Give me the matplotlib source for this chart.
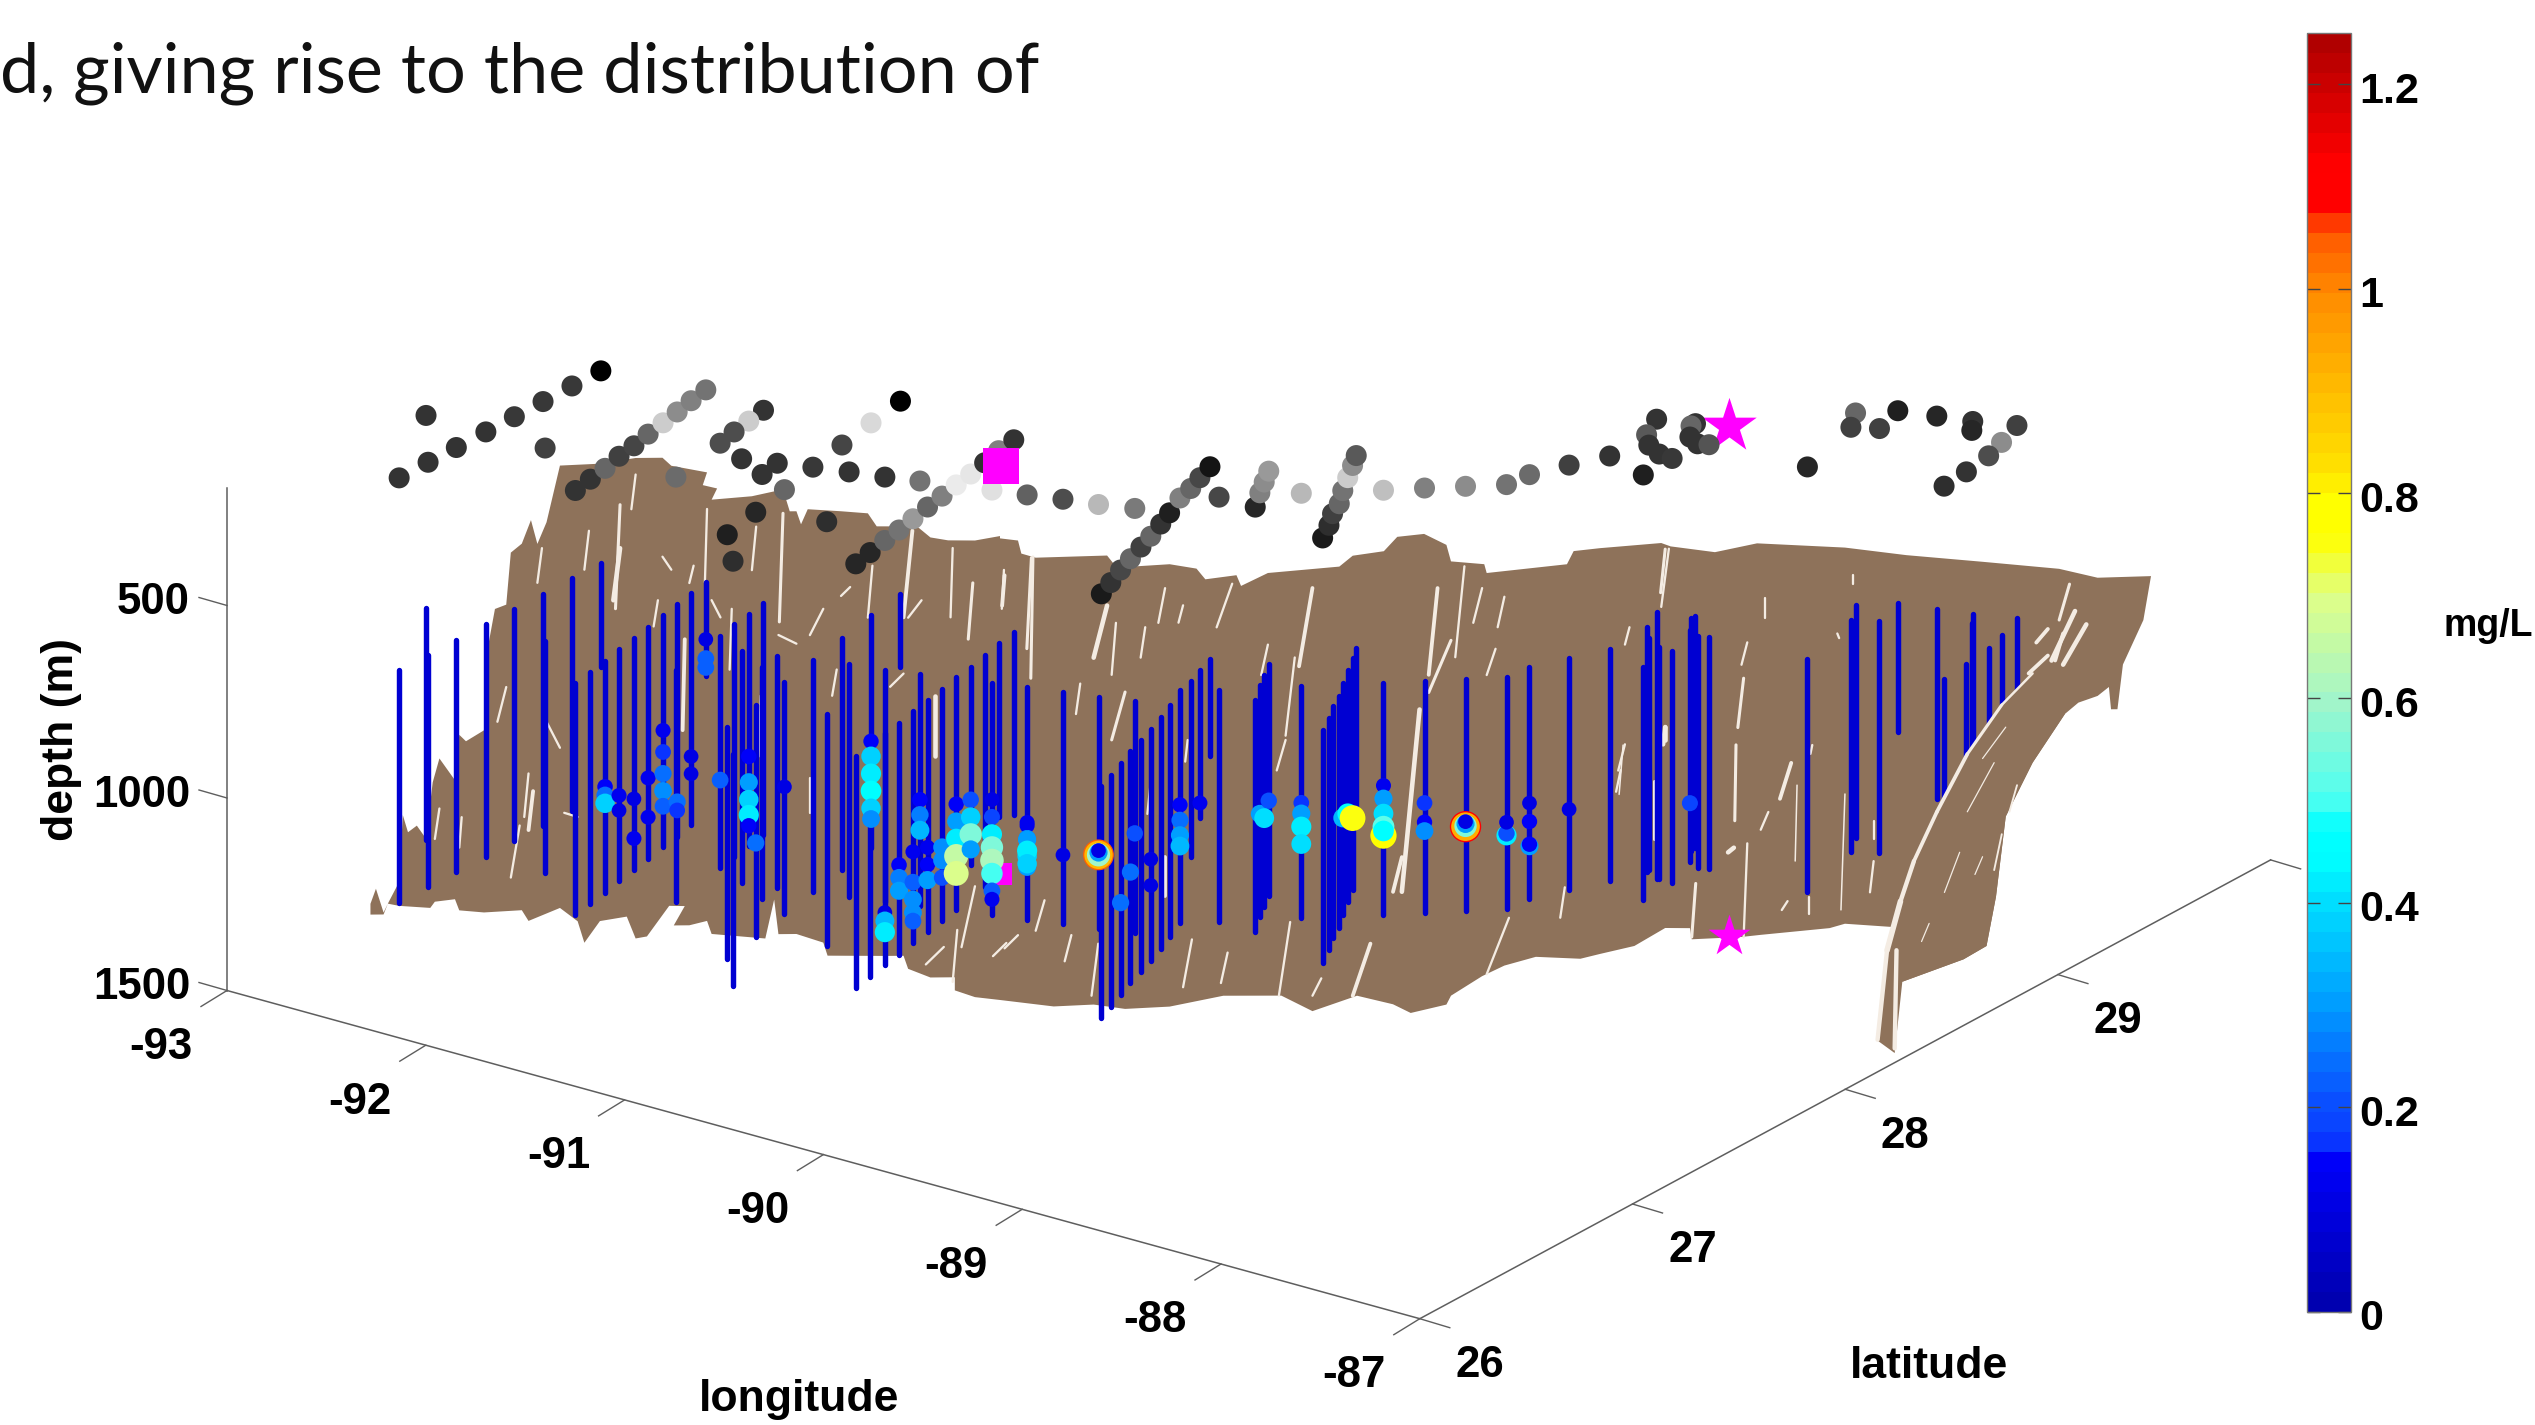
import numpy as np
import matplotlib
matplotlib.use('Agg')
import matplotlib.pyplot as plt
from matplotlib.cm import ScalarMappable
from matplotlib.colors import Normalize, LinearSegmentedColormap
from matplotlib.transforms import ScaledTranslation

# ship stations (surface positions)
track_lon=[-92.026,-92.026,-92.023,-92.021,-92.02,-92.018,-92.018,-92.015,-92.322,-91.724,-91.361,-91.381,-91.399,-91.427,-91.442,-91.467,-91.487,-91.507,-91.53,-91.548,-91.109,-91.23,-91.212,-91.194,-91.171,-91.003,-90.857,-90.838,-90.67,-90.714,-90.754,-90.794,-90.83,-90.564,-90.413,-90.272,-89.974,-89.996,-90.022,-90.039,-90.062,-90.086,-90.105,-90.127,-90.146,-90.169,-90.197,-90.214,-89.976,-89.829,-90.626,-90.582,-90.399,-90.331,-89.683,-89.532,-89.387,-88.971,-89.009,-89.054,-89.091,-89.128,-89.162,-89.204,-89.244,-89.301,-89.324,-89.36,-89.394,-89.176,-88.994,-89.067,-89.119,-89.171,-88.926,-88.579,-88.636,-88.696,-88.735,-88.804,-88.868,-88.927,-88.976,-88.671,-88.548,-88.422,-88.296,-88.281,-88.208,-88.129,-87.9,-88.2,-88.137,-88.066,-87.976,-87.906,-88.043,-88.044,-87.979,-87.912,-87.868,-87.403,-87.576,-87.503,-87.4,-87.449,-87.286,-87.133,-87.081,-86.961,-86.908,-86.868,-86.843,-86.829]
track_lat=[25.899,26.035,26.165,26.302,26.435,26.568,26.704,26.837,26.302,26.303,26.106,26.195,26.281,26.373,26.457,26.547,26.636,26.721,26.808,26.894,26.343,26.868,26.782,26.696,26.609,26.553,26.584,26.495,26.443,26.618,26.792,26.966,27.138,26.648,26.675,26.708,26.128,26.216,26.309,26.392,26.479,26.57,26.656,26.743,26.829,26.916,27.008,27.095,26.77,26.798,26.267,26.092,25.948,26.325,26.83,26.856,26.891,26.345,26.425,26.513,26.594,26.678,26.756,26.842,26.921,27.023,27.095,27.172,27.251,27.09,27.09,27.18,27.249,27.319,27.243,27.019,27.102,27.175,27.243,27.324,27.407,27.485,27.548,27.391,27.469,27.544,27.619,27.713,27.831,27.948,27.892,28.235,28.129,28.073,28.038,28.033,28.271,28.251,28.185,28.158,28.171,28.199,28.587,28.497,28.535,28.667,28.698,28.724,28.671,28.771,28.649,28.551,28.423,28.305]
track_gray=[.2,.2,.2,.2,.22,.22,.22,0,.2,.25,.2,.2,.4,.25,.27,.4,.8,.55,.5,.45,.42,.2,.8,.3,.3,.2,.2,.2,.4,.22,.27,.85,0,.2,.2,.45,.15,.15,.4,.45,.6,.4,.5,.92,.9,.2,.5,.2,.88,.38,.15,.12,.18,.18,
.3,.72,.48,.1,.2,.28,.4,.25,.4,.2,.12,.5,.4,.28,.08,.28,.15,.5,.55,.6,.72,.1,.18,.25,.4,.45,.8,.55,.35,.75,.5,.55,.45,.42,.25,.2,
.12,.2,.35,.2,.2,.22,.2,.4,.2,.2,.33,.15,.4,.25,.25,.12,.15,.2,.15,.25,.55,.3,.2,.18]
cast_bottom=[1103,1103,1103,1103,1103,1103,1103,770,1103,1103,1103,1103,1103,1103,1103,1103,1103,1103,1103,743,1103,1103,1103,1103,1103,1103,1103,1103,1103,1103,1103,1103,691,1103,1103,1103,1103,1103,1103,1103,1103,1103,1103,1103,1015,1103,951,974,1103,1103,1103,1103,1103,1103,
1103,1103,1103,1103,1103,1103,1103,1103,1103,1103,1103,1103,957,884,750,1103,1103,1103,1103,1103,1103,1103,1103,1103,1103,1103,1103,1103,930,1103,1103,1103,1103,1103,1103,1103,
1103,1194,1136,1103,1103,1103,1103,1103,1103,1103,1103,1103,1103,1103,1103,834,994,864,852,703,705,705,744,812]
cast_top=500

site_square=(-90.095,26.925)
site_star=(-87.917,28.312)
square_depth=1059
star_depth=1325

# oxygen-anomaly samples: station index, depth (m), mg/L
blob_station=[12,12,12,13,13,14,14,15,15,16,16,16,16,16,17,17,18,18,19,19,19,24,22,22,22,22,22,50,28,31,31,31,31,31,31,34,34,34,39,39,39,40,40,40,40,40,35,35,35,41,41,41,42,42,42,43,43,43,43,43,44,44,44,44,48,48,48,48,48,48,48,48,49,49,49,49,49,49,49,49,54,55,55,55,55,55,59,60,56,62,62,65,65,65,65,67,71,73,72,74,74,74,74,79,80,81,83,83,83,83,83,83,84,84,84,85,85,85,85,85,86,86,86,87,87,87,87,88,98]
blob_depth=[827,849,870,881,920,917,1020,893,995,799,855,911,956,996,1013,1035,924,969,648,698,721,875,871,938,983,1023,1051,859,772,827,866,911,956,1001,1029,1131,1153,1182,870,903,937,865,944,989,1023,1045,828,867,907,884,929,969,912,946,991,829,874,919,964,1009,846,891,936,975,804,849,894,928,962,996,1041,1063,859,893,938,966,851,896,924,958,924,910,910,910,904,899,864,814,844,839,907,797,837,876,904,845,834,856,873,804,832,866,911,850,873,916,767,801,840,897,874,885,818,868,891,884,884,882,877,871,911,906,877,853,901,965,960,894,951]
blob_value=[.15,.25,.38,.12,.1,.1,.12,.12,.12,.12,.16,.24,.28,.22,.24,.16,.1,.1,.1,.22,.22,.22,.15,.3,.38,.42,.14,.25,.1,.14,.38,.42,.45,.38,.28,.1,.35,.42,.15,.26,.3,.12,.22,.28,.28,.22,.15,.26,.35,.12,.14,.3,.28,.28,.2,.14,.3,.42,.65,.7,.2,.38,.55,.3,.1,.18,.42,.55,.62,.5,.22,.12,.12,.28,.38,.3,.12,.3,.42,.38,
.1,1.05,.9,.6,.3,.1,.25,.25,.2,.1,.1,.14,.24,.3,.34,.12,.3,.2,.4,.16,.3,.42,.4,.35,.45,.75,.12,.3,.4,.78,.52,.45,.16,.14,.28,1.08,.92,.55,.3,.1,.42,.2,.1,.1,.14,.3,.14,.1,.18]

# seafloor outline: longitude and depth along the slope
floor_lon=[-92.739,-92.721,-92.696,-92.682,-92.645,-92.633,-92.616,-92.587,-92.557,-92.535,-92.513,-92.462,-92.448,-92.426,-92.367,-92.352,-92.331,-92.294,-92.279,-92.243,-92.213,-92.192,-92.162,-92.118,-91.987,-91.87,-91.782,-91.753,-91.636,-91.65,-91.603,-91.621,-91.489,-91.387,-91.365,-91.343,-91.328,-91.306,-91.197,-91.109,-91.08,-90.948,-90.904,-90.846,-90.758,-90.676,-90.676,-90.617,-90.606,-90.559,-90.325,-90.296,-90.237,-90.12,-90.032,-90.003,-89.901,-89.886,-89.798,-89.564,-89.52,-89.418,-89.374,-89.286,-89.213,-89.198,-89.089,-89.081,-88.818,-88.796,-88.71,-88.509,-88.478,-88.333,-88.195,-87.907,-87.706,-87.456,-87.205,-87.079,-86.904,-86.929,-86.996,-87.014,-87.035,-87.042,-87.079,-87.142,-87.186,-87.292,-87.38,-87.412,-87.443,-87.518,-87.719,-87.744,-87.907,-87.957,-88.183,-88.246,-88.409,-88.415,-88.496,-88.597,-88.71,-88.774,-88.92,-89.023,-89.096,-89.198,-89.213,-89.33,-89.388,-89.506,-89.652,-89.754,-89.944,-90.12,-90.266,-90.369,-90.5,-90.676,-90.758,-90.824,-90.824,-90.904,-90.977,-90.992,-91.05,-91.241,-91.255,-91.343,-91.402,-91.416,-91.445,-91.621,-91.636,-91.694,-91.745,-91.709,-91.76,-91.833,-91.87,-91.899,-91.987,-92.038,-92.06,-92.118,-92.221,-92.243,-92.367,-92.448,-92.462,-92.528,-92.543,-92.645,-92.682,-92.696,-92.739]
floor_depth=[1366,1327,1389,1366,1310,1136,1181,1164,1198,1052,990,1047,929,946,918,693,603,592,457,434,373,435,379,232,228,214,214,235,253,286,295,324,316,299,356,356,390,351,357,363,397,398,427,435,436,425,431,437,471,482,478,507,507,502,514,542,532,560,527,512,484,473,436,429,458,501,509,532,511,477,470,458,467,483,461,474,495,514,534,558,555,669,784,900,900,842,865,882,911,1037,1176,1384,1512,1546,1603,1461,1451,1462,1478,1483,1488,1459,1458,1504,1524,1536,1530,1552,1579,1629,1652,1673,1650,1627,1666,1625,1624,1651,1656,1644,1648,1630,1622,1604,1570,1570,1547,1513,1513,1511,1477,1454,1454,1364,1465,1452,1418,1429,1429,1379,1378,1457,1462,1405,1416,1472,1416,1381,1414,1386,1391,1385,1356,1362,1378,1372,1366,1394,1394]
hook_lon=[-87.292,-87.393,-87.506,-87.606,-87.681,-87.725,-87.769,-87.804,-87.744,-87.719,-87.518,-87.443,-87.412,-87.38,-87.292,-87.186]
hook_depth=[805,886,1013,1163,1290,1394,1521,1753,1788,1603,1546,1512,1384,1176,1037,911]

# gaps in the bathymetry
gap_lon0=[-91.921,-91.87,-91.797,-92.023,-92.177,-91.921,-91.636,-91.475,-91.387,-91.555,-91.621,-91.255,-91.094,-90.963,-90.831,-90.765,-90.663,-90.568,-90.933,-92.221,-92.294,-92.104,-92.206,-92.25,-91.211,-91.299,-91.46,-90.889,-92.162,-91.036,-91.709,-90.758,-90.655,-90.86,-90.816,-91.782,-91.68,-91.197,-91.402,-92.513,-92.44,-90.573,-90.661,-90.325,-90.296,-90.2,-90.135,-90.076,-89.915,-89.652,-89.798,-89.71,-89.74,-89.242,-89.154,-89.096,-89.198,-89.301,-89.359,-89.023,-89.052,-88.613,-88.496,-88.628,-88.496,-88.642,-88.825,-89.008,-89.462,-89.623,-89.725,-89.93,-90.047,-90.354,-90.442,-90.53,-90.266,-90.413,-90.135,-90.178,-90.061,-90.617,-88.484,-88.17,-87.882,-88.634,-88.239,-88.264,-88.227,-88.396,-88.064,-88.083,-87.907,-87.813,-88.227,-88.534,-88.496,-88.271,-88.158,-88.014,-88.026,-88.095,-87.813,-87.932,-87.171,-87.153,-87.116,-87.242,-87.242,-87.192]
gap_lon1=[-91.936,-91.884,-91.811,-92.038,-92.192,-91.943,-91.643,-91.489,-91.399,-91.562,-91.592,-91.299,-91.109,-90.992,-90.838,-90.78,-90.67,-90.575,-90.977,-92.235,-92.323,-92.06,-92.221,-92.279,-91.226,-91.299,-91.467,-90.889,-92.118,-90.992,-91.716,-90.802,-90.699,-90.919,-90.831,-91.753,-91.694,-91.167,-91.343,-92.528,-92.448,-90.588,-90.669,-90.369,-90.31,-90.215,-90.157,-90.091,-89.966,-89.696,-89.82,-89.74,-89.769,-89.271,-89.184,-89.125,-89.271,-89.359,-89.388,-89.045,-89.081,-88.628,-88.511,-88.65,-88.503,-88.657,-88.84,-89.081,-89.52,-89.652,-89.762,-89.952,-90.076,-90.376,-90.464,-90.559,-90.31,-90.427,-90.135,-90.193,-90.069,-90.661,-88.509,-88.17,-87.882,-88.647,-88.258,-88.268,-88.239,-88.409,-88.07,-88.12,-87.92,-87.825,-88.246,-88.534,-88.496,-88.29,-88.183,-88.02,-88.026,-88.114,-87.813,-87.926,-87.205,-87.23,-87.192,-87.28,-87.305,-87.218]
gap_depth0=[335,257,584,402,446,448,348,395,361,608,585,610,499,409,455,546,513,480,590,1031,806,1134,1077,1166,768,1049,834,838,897,814,686,1334,1482,1491,1447,471,495,577,677,1120,1143,482,527,608,653,665,564,609,554,567,713,747,961,570,514,571,706,885,1268,594,729,676,474,980,936,1047,1350,1428,1492,1581,1434,1512,1477,1486,1463,1372,833,810,1262,1037,959,1462,473,602,546,982,811,984,1240,1343,1090,1032,1114,1289,718,1075,936,1251,1159,986,1380,1391,1185,697,574,644,679,690,759,702]
gap_span=[270,90,68,101,90,135,191,113,282,158,45,68,135,225,180,146,101,315,45,113,90,11,101,135,68,90,158,158,68,-34,236,158,34,45,135,34,45,-23,23,79,79,
236,79,135,135,79,90,45,113,203,79,203,79,225,236,90,135,473,90,79,68,45,113,68,45,56,79,146,135,45,191,79,124,135,68,79,124,79,101,113,56,34,
151,52,23,128,128,197,244,139,197,93,301,81,58,151,35,12,46,23,46,23,46,12,93,128,104,35,46,70]
gap_class=[4,3,3,3,3,6,3,3,4,3,3,3,3,5,3,4,3,4,3,3,3,3,5,3,3,3,3,6,3,3,5,3,3,3,3,3,3,3,3,3,3,4,5,6,3,3,3,3,3,5,3,3,3,5,3,3,4,6,5,3,3,3,4,3,6,3,3,3,5,3,3,3,3,3,3,3,4,3,5,3,3,3,3,3,3,2,4,4,3,4,2,5,2,3,3,4,6,6,3,3,3,3,3,3,4,6,6,5,5,5]
hook_gap_lon0=[-87.292,-87.393,-87.506,-87.606,-87.681,-87.725,-87.769,-87.738,-87.38,-87.418,-87.531,-87.393,-87.343,-87.456,-87.631]
hook_gap_depth0=[805,886,1013,1163,1290,1394,1521,1521,944,1036,1268,1222,1095,1280,1452]
hook_gap_lon1=[-87.393,-87.506,-87.606,-87.681,-87.725,-87.769,-87.8,-87.744,-87.456,-87.506,-87.581,-87.418,-87.368,-87.481,-87.656]
hook_gap_depth1=[886,1013,1163,1290,1394,1521,1753,1776,1025,1163,1372,1315,1164,1326,1499]
hook_gap_class=[4,5,6,6,7,9,7,7,2,2,2,3,3,2,2]

lon_ticks=[-93,-92,-91,-90,-89,-88,-87]
lat_ticks=[26,27,28,29,30]
lat_labels=['26','27','28','29','']
depth_ticks=[500,1000,1500]
cbar_ticks=[0,.2,.4,.6,.8,1,1.2]
cbar_labels=['0','0.2','0.4','0.6','0.8','1','1.2']
heading='d, giving rise to the distribution of'
cbar_levels=[0,.15,.16,.2,.3,.4,.44,.47,.5,.6,.7,.76,.8,.82,1.0,1.07,1.075,1.13,1.25]
cbar_colors=['#0000B0','#0000FF','#0A3CFF','#0A50FF','#00A0FF','#00E0FF','#00FFFF','#00FFFF','#50FFF0','#A5F5C8','#DEFF88','#FFFF00','#FFFF00','#FFE600','#FF8C00','#FF5000','#FF0000','#FF0000','#B00000']

BOLD={'family':'Liberation Sans','weight':'bold'}
def project(lon,lat,depth):
    u=np.asarray(lon,float)+93; v=np.asarray(lat,float)-26; d=np.asarray(depth,float)
    return 227+198.8*u+212.7*v, 413+54.7*u-114.7*v+0.385*d
def slope_lat(lon):
    return 26.3+0.5*(np.asarray(lon,float)+93)
def on_slope(lon,depth):
    return project(lon,slope_lat(lon),depth)

PX=72/100
fig=plt.figure(figsize=(25.35,14.25),dpi=100,facecolor='white')
ax=fig.add_axes([0,0,1,1]); ax.set_xlim(0,2535); ax.set_ylim(1425,0); ax.axis('off')

BROWN='#8E725A'; GAP='#F4ECE3'; AXC='#5E5E5E'
cmap=LinearSegmentedColormap.from_list('do_jet',[(v/1.25,c) for v,c in zip(cbar_levels,cbar_colors)],N=64)
norm=Normalize(0,1.25)

# axes lines and ticks
ox,oy=project(-93,26,1500)
ex,ey=project(-87,26,1500)
cx,cy=project(-87,30,1500)
ztx,zty=project(-93,26,196)
ax.plot([ox,ex,cx],[oy,ey,cy],color=AXC,lw=1.1,zorder=1)
ax.plot([ox,ztx],[oy,zty],color=AXC,lw=1.1,zorder=1)
for t in lon_ticks:
    x,y=project(t,26,1500)
    ax.plot([x,x-26],[y,y+16],color=AXC,lw=1,zorder=1)
    ax.text(x-66,y+57,str(t),ha='center',va='center',fontsize=31.5,**BOLD)
for t,l in zip(lat_ticks,lat_labels):
    x,y=project(-87,t,1500)
    ax.plot([x,x+30],[y,y+9],color=AXC,lw=1,zorder=1)
    ax.text(x+60,y+47,l,ha='center',va='center',fontsize=31.5,**BOLD)
for t in depth_ticks:
    x,y=project(-93,26,t)
    ax.plot([x,x-28],[y,y-8],color=AXC,lw=1,zorder=1)
    ax.text(190,y-3,str(t),ha='right',va='center',fontsize=31.5,**BOLD)
ax.text(799,1399,'longitude',ha='center',va='center',fontsize=32,**BOLD)
ax.text(1929,1367,'latitude',ha='center',va='center',fontsize=32,**BOLD)
ax.text(61,739,'depth (m)',ha='center',va='center',rotation=90,fontsize=32,**BOLD)

# seafloor
fx,fy=on_slope(floor_lon,floor_depth)
ax.fill(fx,fy,color=BROWN,lw=0,zorder=2)
gx0,gy0=on_slope(gap_lon0,gap_depth0)
gx1,gy1=on_slope(gap_lon1,np.add(gap_depth0,gap_span))
for a,b,c,d,w in zip(gx0,gx1,gy0,gy1,gap_class):
    ax.plot([a,b],[c,d],color=GAP,lw=w*0.55,solid_capstyle='round',zorder=3)

# sites at the bottom
sqx,sqy=project(*site_square,square_depth)
ax.scatter([sqx],[sqy],marker='s',s=250,color='#FF00FF',lw=0,zorder=4)

# casts
sx,sy0=project(track_lon,track_lat,0)
_,ytop=project(track_lon,track_lat,cast_top)
_,ybot=project(track_lon,track_lat,cast_bottom)
for x,a,b in zip(sx,ytop,ybot):
    ax.plot([x,x],[a,b],color='#0000D2',lw=3.9,solid_capstyle='round',zorder=5)

# coloured samples
st=np.array(blob_station)
bx,by=project(np.array(track_lon)[st],np.array(track_lat)[st],blob_depth)
bv=np.array(blob_value)
ax.scatter(bx,by,c=bv,cmap=cmap,norm=norm,s=((13+17*bv)*PX)**2,lw=0,zorder=6)

# hook of the slope in front of the casts
hx,hy=on_slope(hook_lon,hook_depth)
ax.fill(hx,hy,color=BROWN,lw=0,zorder=7)
a0,b0=on_slope(hook_gap_lon0,hook_gap_depth0)
a1,b1=on_slope(hook_gap_lon1,hook_gap_depth1)
for p,q,r,s_,w in zip(a0,a1,b0,b1,hook_gap_class):
    ax.plot([p,q],[r,s_],color=GAP,lw=w*0.45,solid_capstyle='round',zorder=8)

# star at the bottom and top markers
tx,ty=project(*site_star,0)
ax.scatter([project(*site_star,star_depth)[0]],[project(*site_star,star_depth)[1]],marker='*',s=1000,color='#FF00FF',lw=0,zorder=9)
ax.scatter([tx],[ty],marker='*',s=1700,color='#FF00FF',lw=0,zorder=9)
ax.scatter(sx,sy0,c=[(g,g,g) for g in track_gray],s=(21*PX)**2,lw=0,zorder=10)
qx,qy=project(*site_square,0)
ax.scatter([qx],[qy],marker='s',s=(36*PX)**2,color='#FF00FF',lw=0,zorder=11)

ax.text(0,73,heading,ha='left',va='center',fontsize=50.5,family='Lato',color='#111111')

# colour bar
W,H=2535,1425
cax=fig.add_axes([2307/W,1-1312/H,44/W,(1312-33)/H])
cb=fig.colorbar(ScalarMappable(norm=norm,cmap=cmap),cax=cax)
cb.set_ticks(cbar_ticks); cb.set_ticklabels(cbar_labels)
cax.tick_params(axis='y',which='both',direction='in',left=True,right=True,length=9.5,width=1,color='#444444',pad=6)
shift=ScaledTranslation(0,-3/100,fig.dpi_scale_trans)
for lab in cax.get_yticklabels():
    lab.set_fontsize(31); lab.set_fontfamily('Liberation Sans'); lab.set_fontweight('bold')
    lab.set_transform(lab.get_transform()+shift)
cb.outline.set_edgecolor('#777777'); cb.outline.set_linewidth(1)
cb.minorticks_off()
ax.text(2443,626,'mg/L',ha='left',va='center',fontsize=27,**BOLD)
fig.savefig('out.png',dpi=100,facecolor='white')
